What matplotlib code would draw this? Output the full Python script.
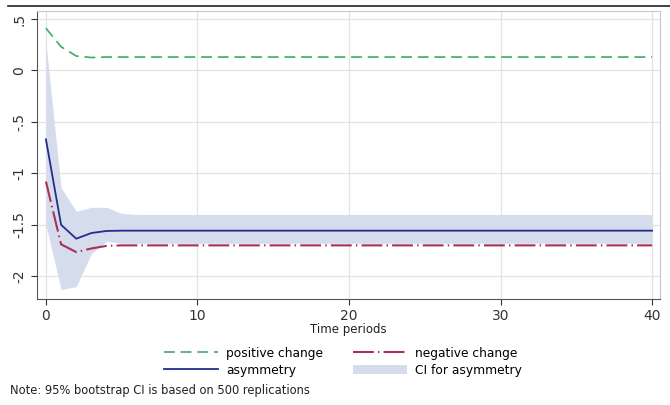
import numpy as np
import matplotlib.pyplot as plt
from matplotlib.lines import Line2D
from matplotlib.patches import Patch

plt.rcParams['font.family'] = ['DejaVu Sans']

# Dynamic multipliers over 40 periods (flat after period 6)
periods = np.arange(0, 41)
pos_head = [0.41, 0.23, 0.14, 0.125, 0.13, 0.13, 0.13]
neg_head = [-1.08, -1.69, -1.765, -1.73, -1.705, -1.70, -1.70]
asym_head = [-0.67, -1.50, -1.635, -1.58, -1.56, -1.557, -1.557]
ci_up_head = [0.27, -1.14, -1.37, -1.33, -1.33, -1.39, -1.40]
ci_lo_head = [-1.50, -2.13, -2.10, -1.78, -1.66, -1.68, -1.68]

def extend(head):
    return np.array(head + [head[-1]] * (len(periods) - len(head)))

positive = extend(pos_head)
negative = extend(neg_head)
asymmetry = extend(asym_head)
ci_upper = extend(ci_up_head)
ci_lower = extend(ci_lo_head)

green_ls = (0, (6.5, 3.5))
red_ls = (0, (10, 2, 0.7, 2))

fig = plt.figure(figsize=(6.7, 4.05), dpi=100)
ax = fig.add_axes([0.0552, 0.262, 0.930, 0.711])

ax.fill_between(periods, ci_lower, ci_upper, color='#d5dcec', linewidth=0, zorder=1)
ax.plot(periods, positive, color='#3daa6a', linestyle=green_ls, linewidth=1.2, zorder=3)
ax.plot(periods, asymmetry, color='#242c8c', linewidth=1.3, zorder=3)
ax.plot(periods, negative, color='#a8305c', linestyle=red_ls, linewidth=1.5, zorder=3)

ax.set_xlim(-0.59, 40.53)
ax.set_ylim(-2.22, 0.578)
ax.set_xticks([0, 10, 20, 30, 40])
ax.set_yticks([0.5, 0, -0.5, -1, -1.5, -2])
ax.set_yticklabels(['.5', '0', '-.5', '-1', '-1.5', '-2'], rotation=90, va='center')
ax.tick_params(labelsize=10, colors='#333333', length=4, width=0.8)
ax.grid(True, color='#e3e3e3', linewidth=0.9)
ax.set_axisbelow(True)
for side in ['top', 'right']:
    ax.spines[side].set_color('#c8c8c8')
for side in ['left', 'bottom']:
    ax.spines[side].set_color('#555555')
ax.set_xlabel('Time periods', fontsize=8.5, labelpad=0, color='#222222')

handles = [
    Line2D([], [], color='#3daa6a', linestyle=green_ls, linewidth=1.2),
    Line2D([], [], color='#242c8c', linewidth=1.3),
    Line2D([], [], color='#a8305c', linestyle=red_ls, linewidth=1.5),
    Patch(facecolor='#d5dcec', edgecolor='none'),
]
labels = ['positive change', 'asymmetry', 'negative change', 'CI for asymmetry']
fig.legend(handles, labels, ncol=2, loc='center', bbox_to_anchor=(0.512, 0.107),
           frameon=False, fontsize=8.8, handlelength=4.4, columnspacing=2.4,
           handletextpad=0.7, labelspacing=0.33)

fig.text(0.015, 0.028, 'Note: 95% bootstrap CI is based on 500 replications',
         fontsize=8.3, color='#222222')
fig.add_artist(Line2D([0.012, 1.0], [0.985, 0.985], color='#222222', linewidth=1.2))

fig.savefig('out.png', dpi=100)
